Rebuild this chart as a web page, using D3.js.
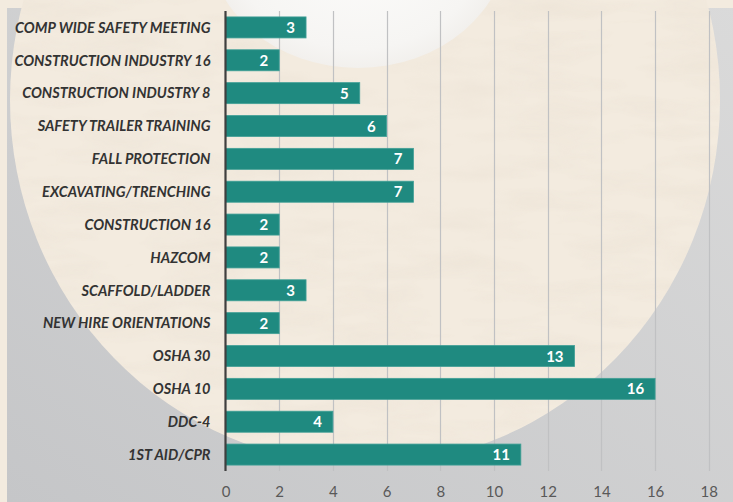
<!DOCTYPE html>
<html>
<head>
<meta charset="utf-8">
<script src="https://cdn.jsdelivr.net/npm/d3@7"></script>
<style>
html,body{margin:0;padding:0;background:#f3ebdf;}
svg{display:block;}
</style>
</head>
<body>
<svg id="chart" width="733" height="502"></svg>
<script>
const categories = [
  "COMP WIDE SAFETY MEETING",
  "CONSTRUCTION INDUSTRY 16",
  "CONSTRUCTION INDUSTRY 8",
  "SAFETY TRAILER TRAINING",
  "FALL PROTECTION",
  "EXCAVATING/TRENCHING",
  "CONSTRUCTION 16",
  "HAZCOM",
  "SCAFFOLD/LADDER",
  "NEW HIRE ORIENTATIONS",
  "OSHA 30",
  "OSHA 10",
  "DDC-4",
  "1ST AID/CPR"
];
const values = [3, 2, 5, 6, 7, 7, 2, 2, 3, 2, 13, 16, 4, 11];
const tickValues = [0, 2, 4, 6, 8, 10, 12, 14, 16, 18];

const W = 733, H = 502;
const FONT = "Lato, 'Open Sans', sans-serif";
const svg = d3.select("#chart");
const defs = svg.append("defs");

// background gradients
const gGray = defs.append("linearGradient").attr("id","gray").attr("x1","0").attr("y1","1").attr("x2","1").attr("y2","0");
gGray.append("stop").attr("offset","0").attr("stop-color","#c5c6c8");
gGray.append("stop").attr("offset","1").attr("stop-color","#dadada");

const gGlow = defs.append("radialGradient").attr("id","glow");
gGlow.append("stop").attr("offset","0").attr("stop-color","#fdfdfc");
gGlow.append("stop").attr("offset","0.85").attr("stop-color","#f6f5f3");
gGlow.append("stop").attr("offset","1").attr("stop-color","#f2f0ed");

// subtle paper texture
const filt = defs.append("filter").attr("id","paper").attr("x","0").attr("y","0").attr("width","1").attr("height","1");
filt.append("feTurbulence").attr("type","fractalNoise").attr("baseFrequency","0.012 0.05").attr("numOctaves","3").attr("seed","4").attr("result","n");
filt.append("feColorMatrix").attr("in","n").attr("type","matrix")
  .attr("values","0 0 0 0 0.78  0 0 0 0 0.70  0 0 0 0 0.60  0 0 0 -1.6 0.95").attr("result","c");
filt.append("feComposite").attr("in","c").attr("in2","SourceGraphic").attr("operator","in");

const bg = svg.append("g");
bg.append("rect").attr("width",W).attr("height",H).attr("fill","#f3ebdf");
bg.append("rect").attr("x",7).attr("y",0).attr("width",W-7).attr("height",H).attr("fill","url(#gray)");
bg.append("rect").attr("x",0).attr("y",0).attr("width",W).attr("height",8).attr("fill","#f3ebdf");
const clip = defs.append("clipPath").attr("id","circ");
clip.append("ellipse").attr("cx",365).attr("cy",100).attr("rx",355).attr("ry",365);
bg.append("ellipse").attr("cx",365).attr("cy",100).attr("rx",355).attr("ry",365).attr("fill","#f3ebdf");
bg.append("rect").attr("x",0).attr("y",0).attr("width",W).attr("height",H)
  .attr("clip-path","url(#circ)").attr("fill","#f3ebdf").attr("filter","url(#paper)").attr("opacity",0.35);
bg.append("ellipse").attr("cx",358).attr("cy",-60).attr("rx",150).attr("ry",128).attr("fill","url(#glow)");

// chart
const x = d3.scaleLinear().domain([0, 18]).range([225.5, 708.8]);
const y = d3.scaleBand().domain(categories).range([11, 471]).paddingInner(0.36).paddingOuter(0.18);

const g = svg.append("g");

// gridlines
g.append("g").selectAll("line").data(tickValues.filter(d => d > 0)).join("line")
  .attr("x1", d => Math.round(x(d)) + 0.5).attr("x2", d => Math.round(x(d)) + 0.5)
  .attr("y1", 11).attr("y2", 471)
  .attr("stroke", "#c0c1c3").attr("stroke-width", 1.2);

// bars
g.append("g").selectAll("rect").data(values).join("rect")
  .attr("x", x(0)).attr("y", (d,i) => y(categories[i]))
  .attr("width", d => x(d) - x(0)).attr("height", y.bandwidth())
  .attr("fill", "#1f8a80").attr("stroke", "#42a097").attr("stroke-width", 0.8);

// value labels
g.append("g").selectAll("text").data(values).join("text")
  .attr("x", d => x(d) - 11).attr("y", (d,i) => y(categories[i]) + y.bandwidth()/2)
  .attr("dy", "0.37em").attr("text-anchor", "end")
  .attr("fill", "#ffffff")
  .style("font-family", FONT)
  .style("font-weight", "bold").style("font-size", "15px")
  .text(d => d);

// category axis
const yAxis = d3.axisLeft(y).tickSize(0).tickPadding(15);
const ya = g.append("g").attr("transform", `translate(${x(0)},0)`).call(yAxis);
ya.select(".domain").remove();
ya.selectAll("text")
  .attr("fill", "#333333").attr("dy", "0.36em")
  .style("font-family", FONT)
  .style("font-weight", "bold").style("font-style", "italic").style("font-size", "14.5px");

g.append("line").attr("x1", x(0)).attr("x2", x(0)).attr("y1", 11).attr("y2", 471)
  .attr("stroke", "#3f3f3f").attr("stroke-width", 2.2);

// value axis
const xAxis = d3.axisBottom(x).tickValues(tickValues).tickSize(0).tickPadding(0);
const xa = g.append("g").attr("transform", "translate(0,486)").call(xAxis);
xa.select(".domain").remove();
xa.selectAll("text")
  .attr("fill", "#595959").attr("dy", "0.71em")
  .style("font-family", FONT)
  .style("font-size", "15px");
</script>
</body>
</html>
